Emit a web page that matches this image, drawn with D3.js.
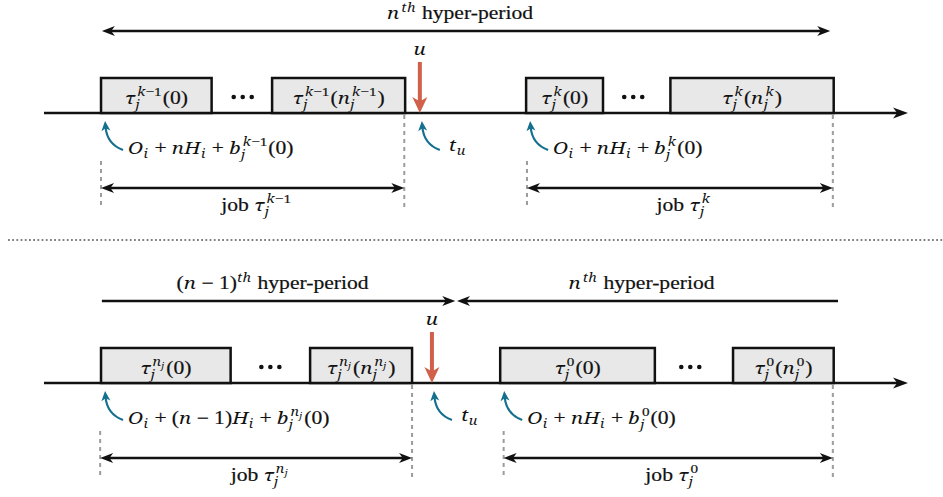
<!DOCTYPE html>
<html>
<head>
<meta charset="utf-8">
<script src="https://cdn.jsdelivr.net/npm/d3@7/dist/d3.min.js"></script>
<style>
  html, body { margin: 0; padding: 0; background: #fff; }
  svg { display: block; }
</style>
</head>
<body>
<script>
// ---------------- data (time units along each timeline, 0..100) ----------------
const panels = ["previous", "wrap"];
const boxStart = [[6.6, 26.4, 55.8, 72.5], [6.6, 30.8, 52.8, 79.75]];
const boxEnd   = [[19.4, 41.8, 64.7, 91.4], [21.6, 42.6, 70.7, 91.4]];
const boxLabels = [
  ["τ_j^{k−1}(0)", "τ_j^{k−1}(n_j^{k−1})", "τ_j^k(0)", "τ_j^k(n_j^k)"],
  ["τ_j^{n_j}(0)", "τ_j^{n_j}(n_j^{n_j})", "τ_j^0(0)", "τ_j^0(n_j^0)"]
];
const ellipsisAt = [[23.0, 68.2], [26.2, 74.8]];
const updateAt = [43.5, 44.9];
const updateLabel = "u";
const updateTimeLabel = "t_u";
const releaseAt = [[6.6, 55.8], [6.6, 52.8]];
const releaseLabels = [
  ["O_i + nH_i + b_j^{k−1}(0)", "O_i + nH_i + b_j^k(0)"],
  ["O_i + (n − 1)H_i + b_j^{n_j}(0)", "O_i + nH_i + b_j^0(0)"]
];
const jobFrom = [[6.6, 55.9], [6.5, 53.2]];
const jobTo   = [[41.7, 91.3], [42.6, 91.3]];
const jobLabels = [
  ["\\rm{job} τ_j^{k−1}", "\\rm{job} τ_j^k"],
  ["\\rm{job} τ_j^{n_j}", "\\rm{job} τ_j^0"]
];
const hyperFrom = [[6.7], [6.7, 47.8]];
const hyperTo   = [[91.0], [47.6, 91.9]];
const hyperHeads = [[["start", "end"]], [["end"], ["start"]]];
const hyperLabels = [
  ["n^{th} \\rm{hyper-period}"],
  ["(n − 1)^{th} \\rm{hyper-period}", "n^{th} \\rm{hyper-period}"]
];

// ---------------- setup ----------------
const W = 943, H = 497;
const FONT_RM = "'Liberation Serif', 'Times New Roman', serif";
const FONT_IT = "'Noto Serif', 'DejaVu Serif', serif";
const IT_SCALE = 0.94;
const FS = 18, SX = 1.2;
const RED = "#d0604a", BLUE = "#156f8e", GRAY = "#9c9c9c", INK = "#111";

const x = d3.scaleLinear().domain([0, 100]).range([44, 908]);
const yAxis = d3.scalePoint().domain(panels).range([113, 383]);

const svg = d3.select("body").append("svg").attr("width", W).attr("height", H);

const measurer = svg.append("text").attr("x", -1000).attr("y", -1000);
function fontFor(it) { return it ? FONT_IT : FONT_RM; }
function sizeFor(size, it) { return it ? size * IT_SCALE : size; }
function tw(str, size, it) {
  measurer.attr("font-size", sizeFor(size, it)).attr("font-family", fontFor(it))
    .attr("font-style", it ? "italic" : "normal").text(str);
  return measurer.node().getComputedTextLength();
}

// tiny LaTeX-like parser
function isIt(c) { return /[A-Za-zτ]/.test(c); }
function parse(s) {
  let i = 0;
  function atom() {
    if (s[i] === "{") { i++; return group(); }
    const c = s[i++];
    return [{ s: c, it: isIt(c) }];
  }
  function group() {
    const toks = [];
    while (i < s.length) {
      const c = s[i];
      if (c === "}") { i++; return toks; }
      if (c === "{") { i++; toks.push(...group()); continue; }
      if (c === "\\") {
        i += 4;
        const j = s.indexOf("}", i);
        toks.push({ s: s.slice(i, j), it: false });
        i = j + 1; continue;
      }
      if (c === "^" || c === "_") {
        i++;
        const last = toks[toks.length - 1];
        let scr;
        if (last && last.script) scr = last; else { scr = { script: true, baseIt: last && last.it }; toks.push(scr); }
        const arg = atom();
        if (c === "^") scr.sup = arg; else scr.sub = arg;
        continue;
      }
      if (c === " ") { i++; toks.push({ gap: 0.24 }); continue; }
      i++;
      toks.push({ s: c, it: isIt(c) });
    }
    return toks;
  }
  return group();
}
function layout(g, toks, x0, y0, size) {
  let cx = x0;
  for (const t of toks) {
    if (t.gap !== undefined) { cx += t.gap * size; continue; }
    if (t.s !== undefined) {
      const w = tw(t.s, size, t.it);
      if (g) g.append("text").attr("x", cx).attr("y", y0)
        .attr("font-size", sizeFor(size, t.it))
        .attr("font-family", fontFor(t.it))
        .attr("font-style", t.it ? "italic" : "normal").attr("fill", INK)
        .attr("stroke", INK).attr("stroke-width", t.it ? 0 : 0.2).text(t.s);
      cx += w + (t.it && t.s.length === 1 ? size * 0.02 : 0);
      continue;
    }
    const ss = size * 0.7;
    const both = t.sup && t.sub;
    let w1 = 0, w2 = 0;
    const supDx = t.baseIt ? size * 0.08 : 0;
    if (t.sup) w1 = supDx + layout(g, t.sup, cx + supDx, y0 - size * (both ? 0.43 : 0.38), ss);
    if (t.sub) w2 = layout(g, t.sub, cx, y0 + size * (both ? 0.3 : 0.2), ss);
    cx += Math.max(w1, w2) + size * 0.05;
  }
  return cx - x0;
}
function label(parent, str, lx, ly, anchor, size = FS) {
  const toks = parse(str);
  const w = layout(null, toks, 0, 0, size);
  const g = parent.append("g").attr("transform", `translate(${lx},${ly}) scale(${SX},1)`);
  const x0 = anchor === "middle" ? -w / 2 : anchor === "end" ? -w : 0;
  layout(g, toks, x0, 0, size);
}
// stealth arrow head: tip at (tx,ty), direction (dx,dy)
function head(g, tx, ty, dx, dy, len, wid, color) {
  const n = Math.hypot(dx, dy); dx /= n; dy /= n;
  const px = -dy, py = dx;
  const bx = tx - dx * len, by = ty - dy * len;
  const ix = tx - dx * len * 0.72, iy = ty - dy * len * 0.72;
  const pts = [[tx, ty], [bx + px * wid / 2, by + py * wid / 2], [ix, iy], [bx - px * wid / 2, by - py * wid / 2]];
  g.append("path").attr("d", "M" + pts.map(p => p.join(",")).join("L") + "Z").attr("fill", color);
}
function hArrow(g, x1, x2, y, heads, sw = 2.5, len = 13, wid = 10) {
  const a = heads.includes("start") ? len * 0.6 : 0;
  const b = heads.includes("end") ? len * 0.6 : 0;
  g.append("line").attr("x1", x1 + a).attr("x2", x2 - b).attr("y1", y).attr("y2", y)
    .attr("stroke", INK).attr("stroke-width", sw);
  if (heads.includes("start")) head(g, x1, y, -1, 0, len, wid, INK);
  if (heads.includes("end")) head(g, x2, y, 1, 0, len, wid, INK);
}
function curved(g, sx, sy, ex, ey) {
  const cxp = ex + 2, cyp = sy - 6;
  const dx = ex - cxp, dy = ey - cyp, n = Math.hypot(dx, dy);
  const len = 10;
  const e2x = ex - dx / n * len * 0.6, e2y = ey - dy / n * len * 0.6;
  g.append("path").attr("d", `M${sx},${sy} Q${cxp},${cyp} ${e2x},${e2y}`)
    .attr("fill", "none").attr("stroke", BLUE).attr("stroke-width", 2.2);
  head(g, ex, ey, dx, dy, len, 9, BLUE);
}

// ---------------- draw panels ----------------
panels.forEach((p, pi) => {
  const y0 = yAxis(p);
  const g = svg.append("g");

  // hyper-period arrows
  hyperFrom[pi].forEach((h, k) => {
    const yy = y0 - 82;
    hArrow(g, x(h), x(hyperTo[pi][k]), yy, hyperHeads[pi][k]);
    label(g, hyperLabels[pi][k], (x(h) + x(hyperTo[pi][k])) / 2 - 6, yy - 12, "middle");
  });

  // dashed guide lines
  releaseAt[pi].forEach((r, k) => {
    g.append("line").attr("x1", x(jobFrom[pi][k])).attr("x2", x(jobFrom[pi][k]))
      .attr("y1", y0 + 48).attr("y2", y0 + 94)
      .attr("stroke", GRAY).attr("stroke-width", 2).attr("stroke-dasharray", "4,4");
    g.append("line").attr("x1", x(jobTo[pi][k])).attr("x2", x(jobTo[pi][k]))
      .attr("y1", y0 + 2).attr("y2", y0 + 94)
      .attr("stroke", GRAY).attr("stroke-width", 2).attr("stroke-dasharray", "4,4");
  });

  // timeline
  hArrow(g, x(0), x(100), y0, ["end"], 2.6, 15, 11);

  // boxes
  boxStart[pi].forEach((b, k) => {
    const x1 = x(b), x2 = x(boxEnd[pi][k]);
    g.append("rect").attr("x", x1).attr("y", y0 - 35).attr("width", x2 - x1).attr("height", 35)
      .attr("fill", "#e8e8e8").attr("stroke", INK).attr("stroke-width", 2.5);
    label(g, boxLabels[pi][k], (x1 + x2) / 2, y0 - 9, "middle");
  });

  // ellipses
  ellipsisAt[pi].forEach(e => {
    [-1, 0, 1].forEach(o => {
      g.append("circle").attr("cx", x(e) + o * 9).attr("cy", y0 - 16).attr("r", 2.3).attr("fill", INK);
    });
  });

  // update arrow (red)
  const ux = x(updateAt[pi]);
  g.append("line").attr("x1", ux).attr("x2", ux).attr("y1", y0 - 51).attr("y2", y0 - 10)
    .attr("stroke", RED).attr("stroke-width", 4);
  head(g, ux, y0, 0, 1, 16, 15, RED);
  label(g, updateLabel, ux, y0 - 58, "middle");

  // t_u curved arrow
  curved(g, ux + 20, y0 + 37, ux + 2, y0 + 8);
  label(g, updateTimeLabel, ux + 29, y0 + 38, "start");

  // release curved arrows
  releaseAt[pi].forEach((r, k) => {
    const rx = x(r);
    curved(g, rx + 22, y0 + 37, rx + 4, y0 + 8);
    label(g, releaseLabels[pi][k], rx + 27, y0 + 41, "start");
  });

  // job span arrows
  jobFrom[pi].forEach((j, k) => {
    const x1 = x(j), x2 = x(jobTo[pi][k]);
    const yy = y0 + 75;
    hArrow(g, x1, x2, yy, ["start", "end"]);
    label(g, jobLabels[pi][k], (x1 + x2) / 2 + 4, yy + 23, "middle");
  });
});

// separator
const sepY = (yAxis(panels[0]) + yAxis(panels[1])) / 2 - 8;
svg.append("line").attr("x1", 8).attr("x2", W).attr("y1", sepY).attr("y2", sepY)
  .attr("stroke", "#555").attr("stroke-width", 1.3).attr("stroke-dasharray", "1.8,2.4");

measurer.remove();
</script>
</body>
</html>
